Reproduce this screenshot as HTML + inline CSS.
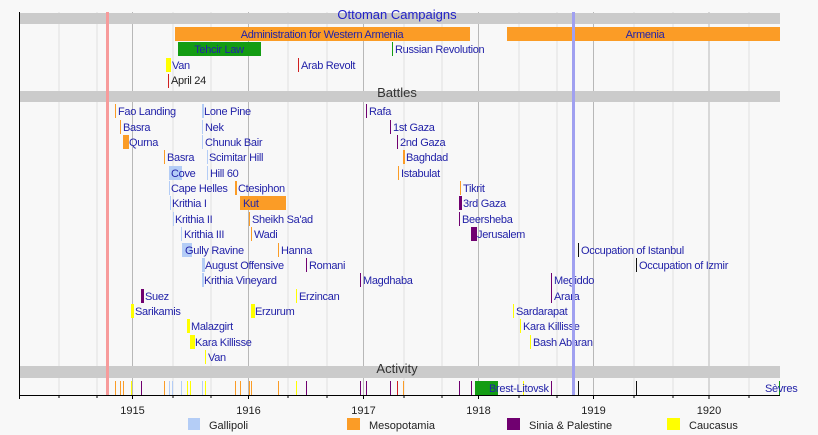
<!DOCTYPE html>
<html><head><meta charset="utf-8"><style>
html,body{margin:0;padding:0;background:#f8f8f8;}
svg{display:block;font-family:"Liberation Sans",sans-serif;}
.t{font-size:11px;fill:#2222a8;letter-spacing:-0.3px}
.g{stroke:#e0e0e0;stroke-width:1}
.G{stroke:#b8b8b8;stroke-width:1}
</style></head><body>
<svg width="818" height="435" viewBox="0 0 818 435">
<rect width="818" height="435" fill="#f8f8f8"/>
<!-- gridlines -->
<g>
<line class="g" x1="59" y1="12" x2="59" y2="395"/><line class="g" x1="97" y1="12" x2="97" y2="395"/>
<line class="G" x1="132.5" y1="12" x2="132.5" y2="395"/><line class="g" x1="173" y1="12" x2="173" y2="395"/><line class="g" x1="211" y1="12" x2="211" y2="395"/>
<line class="G" x1="248.5" y1="12" x2="248.5" y2="395"/><line class="g" x1="288" y1="12" x2="288" y2="395"/><line class="g" x1="327" y1="12" x2="327" y2="395"/>
<line class="G" x1="363.5" y1="12" x2="363.5" y2="395"/><line class="g" x1="404" y1="12" x2="404" y2="395"/><line class="g" x1="442" y1="12" x2="442" y2="395"/>
<line class="G" x1="478.5" y1="12" x2="478.5" y2="395"/><line class="g" x1="519" y1="12" x2="519" y2="395"/><line class="g" x1="557" y1="12" x2="557" y2="395"/>
<line class="G" x1="593.5" y1="12" x2="593.5" y2="395"/><line class="g" x1="634" y1="12" x2="634" y2="395"/><line class="g" x1="673" y1="12" x2="673" y2="395"/>
<line class="G" x1="709" y1="12" x2="709" y2="395"/><line class="g" x1="749" y1="12" x2="749" y2="395"/>
</g>
<!-- bands -->
<rect x="19" y="13" width="761" height="11" fill="#cbcbcb"/>
<rect x="19" y="91" width="761" height="11" fill="#cbcbcb"/>
<rect x="19" y="366" width="761" height="12" fill="#cbcbcb"/>
<text x="397" y="19" text-anchor="middle" style="font-size:13px;fill:#2222c8">Ottoman Campaigns</text>
<text x="397" y="97" text-anchor="middle" style="font-size:13px;fill:#333">Battles</text>
<text x="397" y="373" text-anchor="middle" style="font-size:13px;fill:#333">Activity</text>
<!-- top -->
<rect x="175" y="27" width="295" height="14" fill="#fb9c26"/>
<text class="t" x="322" y="38" text-anchor="middle">Administration for Western Armenia</text>
<rect x="507" y="27" width="273" height="14" fill="#fb9c26"/>
<text class="t" x="645" y="38" text-anchor="middle">Armenia</text>
<rect x="178" y="42" width="83" height="14" fill="#139c13"/>
<text class="t" x="219" y="53" text-anchor="middle">Tehcir Law</text>
<line x1="392.5" y1="42" x2="392.5" y2="56" stroke="#139c13"/><text class="t" x="395" y="53">Russian Revolution</text>
<rect x="166" y="58" width="5" height="14" fill="#ffff00"/><text class="t" x="172" y="69">Van</text>
<line x1="298.5" y1="58" x2="298.5" y2="72" stroke="#d02020"/><text class="t" x="301" y="69">Arab Revolt</text>
<line x1="168.5" y1="74" x2="168.5" y2="88" stroke="#d02020"/><text class="t" x="171" y="84" style="fill:#222">April 24</text>
<!-- battles -->
<g>
<rect x="115" y="104" width="1" height="14" fill="#fb9c26"/><text class="t" x="118" y="115">Fao Landing</text>
<rect x="202" y="104" width="2" height="14" fill="#b4cdf6"/><text class="t" x="204" y="115">Lone Pine</text>
<rect x="366" y="104" width="1" height="14" fill="#700070"/><text class="t" x="369" y="115">Rafa</text>

<rect x="120" y="120" width="1" height="14" fill="#fb9c26"/><text class="t" x="123" y="131">Basra</text>
<rect x="202" y="120" width="1" height="14" fill="#b4cdf6"/><text class="t" x="205" y="131">Nek</text>
<rect x="390" y="120" width="1" height="14" fill="#700070"/><text class="t" x="393" y="131">1st Gaza</text>

<rect x="123" y="135" width="6" height="14" fill="#fb9c26"/><text class="t" x="129" y="146">Qurna</text>
<rect x="202" y="135" width="1" height="14" fill="#b4cdf6"/><text class="t" x="205" y="146">Chunuk Bair</text>
<rect x="397" y="135" width="1" height="14" fill="#700070"/><text class="t" x="400" y="146">2nd Gaza</text>

<rect x="164" y="150" width="1" height="14" fill="#fb9c26"/><text class="t" x="167" y="161">Basra</text>
<rect x="207" y="150" width="1" height="14" fill="#b4cdf6"/><text class="t" x="209" y="161">Scimitar Hill</text>
<rect x="403" y="150" width="2" height="14" fill="#fb9c26"/><text class="t" x="406" y="161">Baghdad</text>

<rect x="169" y="166" width="13" height="14" fill="#b4cdf6"/><text class="t" x="171" y="177">Cove</text>
<rect x="207" y="166" width="1" height="14" fill="#b4cdf6"/><text class="t" x="210" y="177">Hill 60</text>
<rect x="398" y="166" width="1" height="14" fill="#fb9c26"/><text class="t" x="401" y="177">Istabulat</text>

<rect x="169" y="181" width="1" height="14" fill="#b4cdf6"/><text class="t" x="171" y="192">Cape Helles</text>
<rect x="235" y="181" width="2" height="14" fill="#fb9c26"/><text class="t" x="238" y="192">Ctesiphon</text>
<rect x="460" y="181" width="1" height="14" fill="#fb9c26"/><text class="t" x="463" y="192">Tikrit</text>

<rect x="170" y="196" width="1" height="14" fill="#b4cdf6"/><text class="t" x="172" y="207">Krithia I</text>
<rect x="240" y="196" width="46" height="14" fill="#fb9c26"/><text class="t" x="243" y="207">Kut</text>
<rect x="459" y="196" width="3" height="14" fill="#700070"/><text class="t" x="463" y="207">3rd Gaza</text>

<rect x="173" y="212" width="1" height="14" fill="#b4cdf6"/><text class="t" x="175" y="223">Krithia II</text>
<rect x="249" y="212" width="1" height="14" fill="#fb9c26"/><text class="t" x="252" y="223">Sheikh Sa'ad</text>
<rect x="459" y="212" width="1" height="14" fill="#700070"/><text class="t" x="462" y="223">Beersheba</text>

<rect x="181" y="227" width="1" height="14" fill="#b4cdf6"/><text class="t" x="184" y="238">Krithia III</text>
<rect x="251" y="227" width="1" height="14" fill="#fb9c26"/><text class="t" x="254" y="238">Wadi</text>
<rect x="471" y="227" width="6" height="14" fill="#700070"/><text class="t" x="477" y="238">Jerusalem</text>

<rect x="182" y="243" width="10" height="14" fill="#b4cdf6"/><text class="t" x="185" y="254">Gully Ravine</text>
<rect x="278" y="243" width="1" height="14" fill="#fb9c26"/><text class="t" x="281" y="254">Hanna</text>
<rect x="578" y="243" width="1" height="14" fill="#111"/><text class="t" x="581" y="254">Occupation of Istanbul</text>

<rect x="202" y="258" width="3" height="14" fill="#b4cdf6"/><text class="t" x="205" y="269">August Offensive</text>
<rect x="306" y="258" width="1" height="14" fill="#700070"/><text class="t" x="309" y="269">Romani</text>
<rect x="636" y="258" width="1" height="14" fill="#111"/><text class="t" x="639" y="269">Occupation of Izmir</text>

<rect x="202" y="273" width="2" height="14" fill="#b4cdf6"/><text class="t" x="204" y="284">Krithia Vineyard</text>
<rect x="360" y="273" width="1" height="14" fill="#700070"/><text class="t" x="363" y="284">Magdhaba</text>
<rect x="551" y="273" width="1" height="30" fill="#700070"/><text class="t" x="554" y="284">Megiddo</text>

<rect x="141" y="289" width="3" height="14" fill="#700070"/><text class="t" x="145" y="300">Suez</text>
<rect x="296" y="289" width="1" height="14" fill="#ffff00"/><text class="t" x="299" y="300">Erzincan</text>
<text class="t" x="554" y="300">Arara</text>

<rect x="131" y="304" width="3" height="14" fill="#ffff00"/><text class="t" x="135" y="315">Sarikamis</text>
<rect x="251" y="304" width="4" height="14" fill="#ffff00"/><text class="t" x="255" y="315">Erzurum</text>
<rect x="513" y="304" width="1" height="14" fill="#ffff00"/><text class="t" x="516" y="315">Sardarapat</text>

<rect x="187" y="319" width="3" height="14" fill="#ffff00"/><text class="t" x="191" y="330">Malazgirt</text>
<rect x="520" y="319" width="1" height="14" fill="#ffff00"/><text class="t" x="523" y="330">Kara Killisse</text>

<rect x="190" y="335" width="5" height="14" fill="#ffff00"/><text class="t" x="195" y="346">Kara Killisse</text>
<rect x="530" y="335" width="1" height="14" fill="#ffff00"/><text class="t" x="533" y="346">Bash Abaran</text>

<rect x="205" y="350" width="1" height="14" fill="#ffff00"/><text class="t" x="208" y="361">Van</text>
</g>
<!-- activity -->
<g stroke-width="1">
<line x1="115.5" y1="381" x2="115.5" y2="395" stroke="#fb9c26"/>
<line x1="120.5" y1="381" x2="120.5" y2="395" stroke="#fb9c26"/>
<line x1="123.5" y1="381" x2="123.5" y2="395" stroke="#fb9c26"/>
<line x1="131.5" y1="381" x2="131.5" y2="395" stroke="#ffff00"/>
<line x1="141.5" y1="381" x2="141.5" y2="395" stroke="#700070"/>
<line x1="164.5" y1="381" x2="164.5" y2="395" stroke="#fb9c26"/>
<line x1="169.5" y1="381" x2="169.5" y2="395" stroke="#b4cdf6"/>
<line x1="172.5" y1="381" x2="172.5" y2="395" stroke="#b4cdf6"/>
<line x1="181.5" y1="381" x2="181.5" y2="395" stroke="#b4cdf6"/>
<line x1="187.5" y1="381" x2="187.5" y2="395" stroke="#ffff00"/>
<line x1="190.5" y1="381" x2="190.5" y2="395" stroke="#ffff00"/>
<line x1="202.5" y1="381" x2="202.5" y2="395" stroke="#b4cdf6"/>
<line x1="205.5" y1="381" x2="205.5" y2="395" stroke="#ffff00"/>
<line x1="235.5" y1="381" x2="235.5" y2="395" stroke="#fb9c26"/>
<line x1="240.5" y1="381" x2="240.5" y2="395" stroke="#fb9c26"/>
<line x1="249.5" y1="381" x2="249.5" y2="395" stroke="#fb9c26"/>
<line x1="251.5" y1="381" x2="251.5" y2="395" stroke="#fb9c26"/>
<line x1="278.5" y1="381" x2="278.5" y2="395" stroke="#fb9c26"/>
<line x1="296.5" y1="381" x2="296.5" y2="395" stroke="#ffff00"/>
<line x1="306.5" y1="381" x2="306.5" y2="395" stroke="#700070"/>
<line x1="360.5" y1="381" x2="360.5" y2="395" stroke="#700070"/>
<line x1="366.5" y1="381" x2="366.5" y2="395" stroke="#700070"/>
<line x1="390.5" y1="381" x2="390.5" y2="395" stroke="#700070"/>
<line x1="397.5" y1="381" x2="397.5" y2="395" stroke="#d02020"/>
<line x1="403.5" y1="381" x2="403.5" y2="395" stroke="#fb9c26"/>
<line x1="459.5" y1="381" x2="459.5" y2="395" stroke="#700070"/>
<line x1="471.5" y1="381" x2="471.5" y2="395" stroke="#700070"/>
<line x1="523.5" y1="381" x2="523.5" y2="395" stroke="#ffff00"/>
<line x1="551.5" y1="381" x2="551.5" y2="395" stroke="#700070"/>
<line x1="578.5" y1="381" x2="578.5" y2="395" stroke="#111"/>
<line x1="636.5" y1="381" x2="636.5" y2="395" stroke="#111"/>
<line x1="779.5" y1="381" x2="779.5" y2="395" stroke="#139c13"/>
</g>
<rect x="475" y="381" width="23" height="14" fill="#139c13"/>
<text class="t" x="489" y="392">Brest-Litovsk</text>
<text class="t" x="765" y="392">Sèvres</text>
<!-- vertical highlight lines -->
<rect x="106" y="12" width="3" height="383" fill="#f79b9b"/>
<rect x="572" y="12" width="3" height="383" fill="#a0a0f0"/>
<!-- axes -->
<line x1="19.5" y1="12" x2="19.5" y2="395" stroke="#000"/>
<line x1="19" y1="395.5" x2="780" y2="395.5" stroke="#000"/>
<g stroke="#000">
<line x1="19.5" y1="395" x2="19.5" y2="399"/><line x1="59" y1="395" x2="59" y2="398"/><line x1="97" y1="395" x2="97" y2="398"/>
<line x1="132.5" y1="395" x2="132.5" y2="399"/><line x1="173" y1="395" x2="173" y2="398"/><line x1="211" y1="395" x2="211" y2="398"/>
<line x1="248.5" y1="395" x2="248.5" y2="399"/><line x1="288" y1="395" x2="288" y2="398"/><line x1="327" y1="395" x2="327" y2="398"/>
<line x1="363.5" y1="395" x2="363.5" y2="399"/><line x1="404" y1="395" x2="404" y2="398"/><line x1="442" y1="395" x2="442" y2="398"/>
<line x1="478.5" y1="395" x2="478.5" y2="399"/><line x1="519" y1="395" x2="519" y2="398"/><line x1="557" y1="395" x2="557" y2="398"/>
<line x1="593.5" y1="395" x2="593.5" y2="399"/><line x1="634" y1="395" x2="634" y2="398"/><line x1="673" y1="395" x2="673" y2="398"/>
<line x1="709" y1="395" x2="709" y2="399"/><line x1="749" y1="395" x2="749" y2="398"/>
</g>
<g style="font-size:11px;fill:#222" text-anchor="middle">
<text x="132.5" y="414">1915</text><text x="248.5" y="414">1916</text><text x="363.5" y="414">1917</text>
<text x="478.5" y="414">1918</text><text x="593.5" y="414">1919</text><text x="709" y="414">1920</text>
</g>
<!-- legend -->
<g style="font-size:11px;fill:#222">
<rect x="188" y="418" width="12" height="12" fill="#b4cdf6"/><text x="209" y="429">Gallipoli</text>
<rect x="347" y="418" width="13" height="12" fill="#fb9c26"/><text x="369" y="429">Mesopotamia</text>
<rect x="507" y="418" width="13" height="12" fill="#700070"/><text x="529" y="429">Sinia &amp; Palestine</text>
<rect x="667" y="418" width="13" height="12" fill="#ffff00"/><text x="689" y="429">Caucasus</text>
</g>
</svg>
</body></html>
